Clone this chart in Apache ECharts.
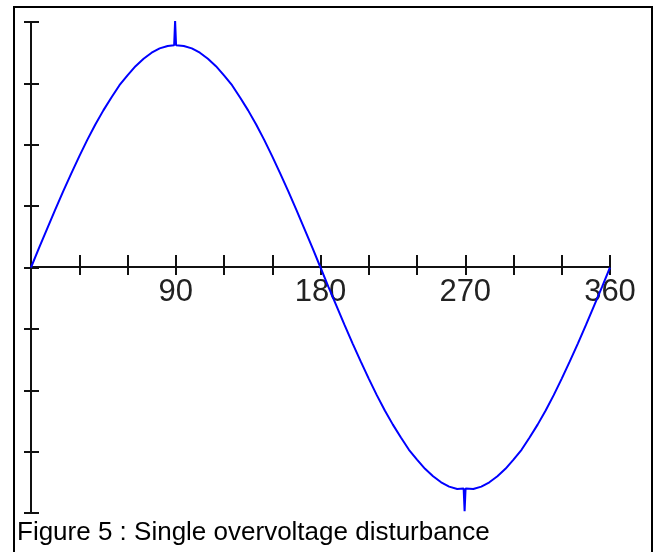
<!DOCTYPE html>
<html>
<head>
<meta charset="utf-8">
<title>Figure 5</title>
<script src="https://cdn.jsdelivr.net/npm/echarts@6/dist/echarts.min.js"></script>
<style>
    html, body { margin: 0; padding: 0; background: #fff; }
    #chart { width: 654px; height: 552px; }
</style>
</head>
<body>
<div id="chart"></div>
<script>
    /* phase angle in degrees, with the two short disturbance spikes at 90 and 270 */
    var angles = [
        0, 5, 10, 15, 20, 25, 30, 35, 40, 45, 50, 55, 60, 65, 70, 75, 80, 85,
        89, 89.6, 90.2,
        95, 100, 105, 110, 115, 120, 125, 130, 135, 140, 145, 150, 155, 160, 165, 170, 175,
        180, 185, 190, 195, 200, 205, 210, 215, 220, 225, 230, 235, 240, 245, 250, 255, 260, 265,
        269, 269.6, 270.2,
        275, 280, 285, 290, 295, 300, 305, 310, 315, 320, 325, 330, 335, 340, 345, 350, 355, 360
    ];
    var voltage = [
        0, 0.32, 0.63, 0.94, 1.24, 1.53, 1.81, 2.08, 2.33, 2.56, 2.77, 2.97, 3.13, 3.28, 3.40, 3.50, 3.57, 3.61,
        3.62, 4.02, 3.62,
        3.61, 3.57, 3.50, 3.40, 3.28, 3.13, 2.97, 2.77, 2.56, 2.33, 2.08, 1.81, 1.53, 1.24, 0.94, 0.63, 0.32,
        0, -0.32, -0.63, -0.94, -1.24, -1.53, -1.81, -2.08, -2.33, -2.56, -2.77, -2.97, -3.13, -3.28, -3.40, -3.50, -3.57, -3.61,
        -3.60, -3.97, -3.60,
        -3.61, -3.57, -3.50, -3.40, -3.28, -3.13, -2.97, -2.77, -2.56, -2.33, -2.08, -1.81, -1.53, -1.24, -0.94, -0.63, -0.32, 0
    ];
    var xLabels = [90, 180, 270, 360];
    var caption = 'Figure 5 : Single overvoltage disturbance';

    var points = [];
    for (var i = 0; i < angles.length; i++) {
        points.push([angles[i], voltage[i]]);
    }

    var axisCol = '#111';
    var chart = echarts.init(document.getElementById('chart'), null, { renderer: 'canvas' });

    // the x axis sits on y = 0: grid bottom is at 513, zero line at 267
    var zeroShift = -(513 - 267);

    // x and y axes are doubled so the ticks cross the axis line on both sides
    var xBase = {
        type: 'value', min: 0, max: 360, interval: 30,
        position: 'bottom',
        offset: zeroShift,
        axisLine: { onZero: false, lineStyle: { color: axisCol, width: 2 } },
        splitLine: { show: false }
    };
    var yBase = {
        type: 'value', min: -4, max: 4, interval: 1,
        position: 'left',
        axisLine: { onZero: false, lineStyle: { color: axisCol, width: 2 } },
        axisLabel: { show: false },
        splitLine: { show: false }
    };

    var option = {
        animation: false,
        backgroundColor: '#fff',
        title: {
            text: caption,
            left: 17,
            top: 520,
            padding: 0,
            textStyle: { fontFamily: 'Liberation Sans, Arial, sans-serif', fontSize: 26, fontWeight: 'normal', color: '#000' }
        },
        grid: { left: 31, right: 44, top: 22, bottom: 39 },
        graphic: [{
            type: 'rect',
            shape: { x: 14, y: 7, width: 638, height: 600 },
            style: { fill: null, stroke: '#000', lineWidth: 2 },
            z: 100
        }],
        xAxis: [
            Object.assign({}, xBase, {
                axisTick: { inside: false, length: 8, lineStyle: { color: axisCol, width: 2 } },
                axisLabel: {
                    margin: 10,
                    fontFamily: 'Liberation Sans, Arial, sans-serif',
                    fontSize: 31,
                    color: '#222',
                    formatter: function (v) { return xLabels.indexOf(v) >= 0 ? String(v) : ''; }
                }
            }),
            Object.assign({}, xBase, {
                axisTick: { inside: true, length: 12, lineStyle: { color: axisCol, width: 2 } },
                axisLabel: { show: false }
            })
        ],
        yAxis: [
            Object.assign({}, yBase, {
                axisTick: { inside: false, length: 7, lineStyle: { color: axisCol, width: 2 } }
            }),
            Object.assign({}, yBase, {
                axisTick: { inside: true, length: 8, lineStyle: { color: axisCol, width: 2 } }
            })
        ],
        series: [{
            type: 'line',
            data: points,
            symbol: 'none',
            smooth: false,
            lineStyle: { color: '#0000ff', width: 2 },
            z: 5
        }]
    };
    chart.setOption(option);
</script>
</body>
</html>
